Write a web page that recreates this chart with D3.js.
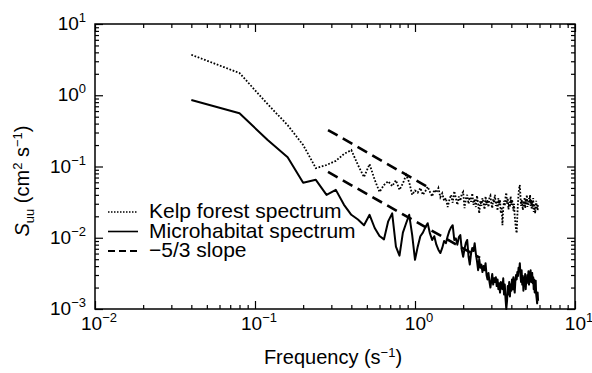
<html>
<head>
<style>
  body { margin: 0; background: #fff; }
  text { font-family: "Liberation Sans", Arial, Helvetica, sans-serif; fill: #000; }
  .axis path { display: none; }
  .axis line { stroke: #000; stroke-width: 1.2; }
</style>
</head>
<body>
<svg id="chart" width="592" height="373"></svg>
<script src="https://cdn.jsdelivr.net/npm/d3@7"></script>
<script>
// spectra sampled every 0.04 Hz (first bin 0.04)
const df = 0.04
const kelp = [3.7, 2.05, 0.75, 0.38, 0.2, 0.095, 0.105, 0.12, 0.15, 0.17,
  0.105, 0.071, 0.108, 0.065, 0.044, 0.055, 0.062, 0.053, 0.064, 0.047,
  0.058, 0.076, 0.06, 0.04, 0.046, 0.043, 0.05, 0.04, 0.045, 0.052,
  0.044, 0.038, 0.047, 0.043, 0.05, 0.037, 0.042, 0.033, 0.036, 0.027,
  0.034, 0.04, 0.031, 0.045, 0.036, 0.029, 0.038, 0.033, 0.041, 0.044,
  0.026, 0.035, 0.04, 0.03, 0.037, 0.032, 0.042, 0.029, 0.035, 0.027,
  0.039, 0.03, 0.022, 0.033, 0.028, 0.036, 0.031, 0.025, 0.038, 0.029,
  0.034, 0.027, 0.037, 0.039, 0.03, 0.026, 0.035, 0.031, 0.04, 0.028,
  0.033, 0.024, 0.036, 0.029, 0.034, 0.022, 0.027, 0.015, 0.026, 0.033,
  0.028, 0.037, 0.043, 0.03, 0.036, 0.025, 0.032, 0.027, 0.038, 0.029,
  0.034, 0.031, 0.024, 0.03, 0.02, 0.016, 0.013, 0.0116, 0.02, 0.031,
  0.042, 0.05, 0.055, 0.039, 0.028, 0.034, 0.03, 0.0245, 0.033, 0.028,
  0.037, 0.026, 0.035, 0.03, 0.04, 0.027, 0.033, 0.029, 0.036, 0.031,
  0.04, 0.028, 0.034, 0.025, 0.032, 0.027, 0.036, 0.023, 0.03, 0.026,
  0.022, 0.029, 0.033, 0.025, 0.029, 0.024, 0.03]
const micro = [0.86, 0.56, 0.235, 0.135, 0.059, 0.065, 0.04, 0.047, 0.029, 0.021,
  0.018, 0.015, 0.021, 0.0137, 0.0106, 0.0095, 0.017, 0.022, 0.0075, 0.0056,
  0.0118, 0.016, 0.021, 0.011, 0.0049, 0.0075, 0.0105, 0.0118, 0.014, 0.016,
  0.0115, 0.0093, 0.0105, 0.008, 0.0068, 0.0061, 0.0072, 0.009, 0.0084, 0.0105,
  0.0125, 0.014, 0.015, 0.0093, 0.0098, 0.008, 0.0102, 0.0109, 0.0068, 0.0054,
  0.007, 0.0085, 0.0093, 0.0055, 0.0042, 0.006, 0.0072, 0.0065, 0.0084, 0.006,
  0.0047, 0.0035, 0.005, 0.0038, 0.0042, 0.0033, 0.004, 0.0035, 0.0044, 0.003,
  0.0026, 0.0032, 0.0024, 0.002, 0.0025, 0.0031, 0.0022, 0.0027, 0.0024, 0.0028,
  0.0021, 0.0026, 0.0019, 0.0023, 0.0017, 0.0024, 0.0021, 0.0019, 0.0027, 0.0016,
  0.0022, 0.0014, 0.001, 0.0013, 0.0021, 0.0016, 0.0024, 0.0015, 0.0022, 0.0018,
  0.0026, 0.0019, 0.0028, 0.0021, 0.0017, 0.0025, 0.003, 0.0026, 0.0033, 0.0029,
  0.0038, 0.0034, 0.0044, 0.003, 0.0024, 0.0035, 0.0022, 0.0029, 0.0018, 0.0027,
  0.0021, 0.0031, 0.0019, 0.0026, 0.0023, 0.003, 0.0025, 0.0034, 0.0022, 0.0029,
  0.0026, 0.0035, 0.0024, 0.0031, 0.0032, 0.0023, 0.0028, 0.0019, 0.0026, 0.0017,
  0.002, 0.0025, 0.0016, 0.0014, 0.0012, 0.0017, 0.0013]
// the two -5/3 reference segments, [frequency, Suu]
const slopeUpper = [[0.286, 0.325], [1.2, 0.0515]]
const slopeLower = [[0.286, 0.0838], [2.55, 0.0052]]
const xDecades = [-2, -1, 0, 1]
const yDecades = [-3, -2, -1, 0, 1]
const legendLabels = ["Kelp forest spectrum", "Microhabitat spectrum", "\u22125/3 slope"]

let svg = d3.select("#chart")
let pLeft = 95, pRight = 575, pTop = 24, pBottom = 309

let x = d3.scaleLog().domain([0.01, 10]).range([pLeft, pRight])
let y = d3.scaleLog().domain([0.001, 10]).range([pBottom, pTop])

// minor ticks 2..9 in every decade
let minorX = [], minorY = []
xDecades.slice(0, -1).forEach(e => { for (let m = 2; m < 10; m++) minorX.push(m * Math.pow(10, e)) })
yDecades.slice(0, -1).forEach(e => { for (let m = 2; m < 10; m++) minorY.push(m * Math.pow(10, e)) })
let majorX = xDecades.map(e => Math.pow(10, e))
let majorY = yDecades.map(e => Math.pow(10, e))

function addAxis(gen, tr, vals, len) {
    svg.append("g").attr("class", "axis").attr("transform", tr)
        .call(gen.tickValues(vals).tickSize(-len).tickFormat(""))
}
addAxis(d3.axisBottom(x), `translate(0,${pBottom})`, minorX, 4)
addAxis(d3.axisBottom(x), `translate(0,${pBottom})`, majorX, 8)
addAxis(d3.axisTop(x), `translate(0,${pTop})`, minorX, 4)
addAxis(d3.axisTop(x), `translate(0,${pTop})`, majorX, 8)
addAxis(d3.axisLeft(y), `translate(${pLeft},0)`, minorY, 4)
addAxis(d3.axisLeft(y), `translate(${pLeft},0)`, majorY, 8)
addAxis(d3.axisRight(y), `translate(${pRight},0)`, minorY, 4)
addAxis(d3.axisRight(y), `translate(${pRight},0)`, majorY, 8)

svg.append("rect").attr("x", pLeft).attr("y", pTop)
    .attr("width", pRight - pLeft).attr("height", pBottom - pTop)
    .attr("fill", "none").attr("stroke", "#000").attr("stroke-width", 1.5)

// power-of-ten labels
function powLabel(sel, e) {
    sel.append("tspan").text("10")
    sel.append("tspan").attr("dy", -8).attr("font-size", 13)
        .text(e < 0 ? "\u2212" + (-e) : String(e))
}
xDecades.forEach(e => {
    let t = svg.append("text").attr("x", x(Math.pow(10, e)) + 4).attr("y", 330)
        .attr("font-size", 19).attr("text-anchor", "middle")
    powLabel(t, e)
})
yDecades.forEach(e => {
    let t = svg.append("text").attr("x", 86).attr("y", y(Math.pow(10, e)) + 6)
        .attr("font-size", 19).attr("text-anchor", "end")
    powLabel(t, e)
})

// axis titles
let xt = svg.append("text").attr("x", 333).attr("y", 364)
    .attr("font-size", 20).attr("text-anchor", "middle")
xt.append("tspan").text("Frequency (s")
xt.append("tspan").attr("dy", -7).attr("font-size", 13).text("\u22121")
xt.append("tspan").attr("dy", 7).text(")")

let yt = svg.append("text").attr("transform", "translate(29,181) rotate(-90)")
    .attr("font-size", 20).attr("text-anchor", "middle")
yt.append("tspan").attr("font-style", "italic").text("S")
yt.append("tspan").attr("dy", 5).attr("font-size", 13).text("uu")
yt.append("tspan").attr("dy", -5).text(" (cm")
yt.append("tspan").attr("dy", -7).attr("font-size", 13).text("2")
yt.append("tspan").attr("dy", 7).text(" s")
yt.append("tspan").attr("dy", -7).attr("font-size", 13).text("\u22121")
yt.append("tspan").attr("dy", 7).text(")")

// series
let line = d3.line().x(d => x(d[0])).y(d => y(d[1]))
let kelpPts = kelp.map((v, i) => [df * (i + 1), v])
let microPts = micro.map((v, i) => [df * (i + 1), v])

let styles = [
    { dash: "1.7 1.7", width: 1.8 },
    { dash: null, width: 2 },
    { dash: "11 6", width: 2.6 }
]

let plot = svg.append("g")
plot.append("path").attr("d", line(kelpPts)).attr("fill", "none")
    .attr("stroke", "#000").attr("stroke-width", styles[0].width).attr("stroke-dasharray", styles[0].dash)
plot.append("path").attr("d", line(microPts)).attr("fill", "none")
    .attr("stroke", "#000").attr("stroke-width", styles[1].width).attr("stroke-linejoin", "round")
;[slopeUpper, slopeLower].forEach(s => {
    plot.append("path").attr("d", line(s)).attr("fill", "none")
        .attr("stroke", "#000").attr("stroke-width", styles[2].width).attr("stroke-dasharray", styles[2].dash)
})

// legend
let leg = svg.append("g").selectAll("g").data(legendLabels).enter().append("g")
    .attr("transform", (d, i) => `translate(0,${218 + i * 19.5})`)
leg.append("line").attr("x1", 108).attr("x2", 138).attr("y1", -6).attr("y2", -6)
    .attr("stroke", "#000")
    .attr("stroke-width", (d, i) => i == 2 ? 2 : 1.6)
    .attr("stroke-dasharray", (d, i) => i == 2 ? "7 4" : (i == 0 ? "1.5 1.5" : null))
leg.append("text").attr("x", 149).attr("y", 0).attr("font-size", 21).text(d => d)
</script>
</body>
</html>
